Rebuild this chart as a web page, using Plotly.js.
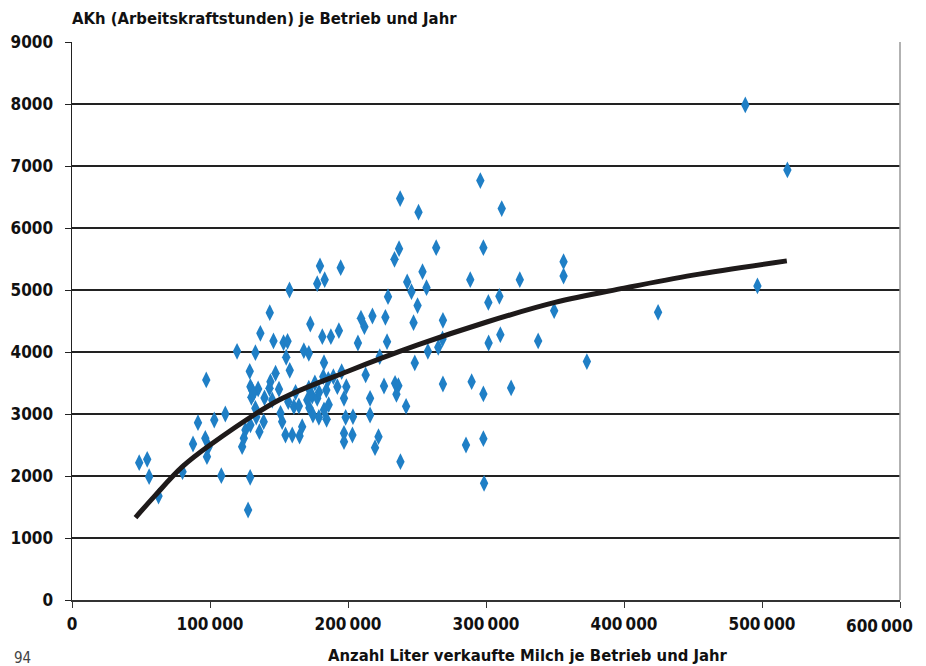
<!DOCTYPE html>
<html>
<head>
<meta charset="utf-8">
<script src="https://cdn.plot.ly/plotly-3.0.1.min.js"></script>
<style>html,body{margin:0;padding:0;background:#fff;}#chart{width:926px;height:666px;}</style>
</head>
<body>
<div id="chart"></div>
<script>
// Scatter data: litres of milk sold per farm and year vs. labour hours (AKh)
const milkLiters = [
  48700, 54500, 55900, 62700, 80100, 87700, 91300, 96600, 97300, 97800,
  99000, 103100, 108200, 111100, 119600, 123300, 124500, 125700, 127600, 128800,
  129100, 129300, 129300, 130000, 130500, 132900, 136500, 132900, 134900, 135800,
  138900, 131500, 133500, 143300, 146000, 143100, 143800, 147500, 145100, 151100,
  152300, 154700, 153300, 156200, 155200, 157800, 157600, 156700, 160800, 164400,
  159600, 164900, 166800, 168000, 171600, 172700, 170500, 171600, 174100, 174600,
  177700, 177700, 179700, 178900, 181400, 182100, 182600, 182600, 183100, 184300,
  184500, 185700, 187600, 189400, 192300, 193400, 194700, 195400, 197100, 197100,
  197100, 198300, 198800, 203600, 203200, 207200, 209400, 211900, 216000, 216000,
  217700, 219600, 222100, 223000, 226100, 227100, 229000, 228300, 233700, 237000,
  237800, 234100, 236500, 235100, 238000, 242100, 242900, 246000, 247500, 248400,
  250400, 251100, 254000, 256900, 257900, 263900, 265400, 268500, 268800, 268800,
  285500, 288600, 289600, 295900, 298100, 298100, 298100, 298600, 301700, 301900,
  309700, 310400, 311400, 318200, 324500, 337800, 349400, 356200, 356200, 373100,
  424700, 487900, 496700, 518400,
  176000, 179000, 186000, 172000, 162000, 150000, 139500, 212800
];
const laborHours = [
  2215, 2269, 1989, 1677, 2070, 2516, 2860, 2608, 3549, 2312,
  2473, 2903, 2005, 3000, 4011, 2473, 2608, 2742, 1452, 3689,
  1979, 3441, 2823, 3270, 3387, 3989, 4302, 3092, 3404, 2715,
  2876, 3330, 2950, 4634, 4178, 3415, 3521, 3657, 3226, 3011,
  2876, 2661, 4150, 4172, 3915, 3705, 5000, 3199, 3118, 3129,
  2661, 2645, 2795, 4021, 3979, 4452, 3226, 3415, 3290, 2984,
  3253, 5102, 5388, 2947, 4247, 3602, 3828, 3065, 5167, 3387,
  2915, 3560, 4247, 3602, 3441, 4344, 5360, 3683, 3253, 2689,
  2553, 2947, 3441, 2957, 2661, 4145, 4544, 4409, 3253, 2984,
  4581, 2457, 2634, 3925, 3452, 4560, 4892, 4166, 5495, 5667,
  6474, 3495, 3457, 3318, 2231, 3124, 5130, 4973, 4473, 3823,
  4748, 6255, 5296, 5038, 4011, 5683, 4075, 4210, 4511, 3484,
  2500, 5167, 3521, 6765, 5683, 3323, 2602, 1882, 4800, 4145,
  4898, 4280, 6313, 3420, 5167, 4178, 4667, 5457, 5226, 3845,
  4640, 7985, 5065, 6936,
  3500, 3350, 3150, 3100, 3350, 3400, 3260, 3630
];

// Trend curve
const trendX = [46000, 60000, 80000, 100000, 150000, 200000, 250000, 300000, 350000, 400000, 450000, 518000];
const trendY = [1330, 1680, 2150, 2500, 3225, 3690, 4110, 4480, 4800, 5030, 5240, 5470];

// Axis ticks (the last label is placed so it stays inside the picture)
const xTickVals = [0, 100000, 200000, 300000, 400000, 500000, 600000];
const xTickText = ["0", "100\u2009000", "200\u2009000", "300\u2009000", "400\u2009000", "500\u2009000", ""];
const xLastTickVal = 600000;
const xLastTickText = "600\u2009000";
const yTickVals = [0, 1000, 2000, 3000, 4000, 5000, 6000, 7000, 8000, 9000];

const yTitle = "AKh (Arbeitskraftstunden) je Betrieb und Jahr";
const xTitle = "Anzahl Liter verkaufte Milch je Betrieb und Jahr";
const pageNo = "94";

const FONT = "DejaVu Sans Condensed, DejaVu Sans, sans-serif";

const traces = [
  {
    type: "scatter", mode: "markers",
    x: milkLiters, y: laborHours,
    marker: { symbol: "diamond-tall", size: 12, color: "#1f7fc6", line: { width: 0 } },
    hoverinfo: "x+y"
  },
  {
    type: "scatter", mode: "lines",
    x: trendX, y: trendY,
    line: { color: "#1e1a1a", width: 5, shape: "spline", smoothing: 1 },
    hoverinfo: "skip"
  }
];

const layout = {
  width: 926, height: 666,
  margin: { l: 72, r: 26, t: 42, b: 66 },
  paper_bgcolor: "#ffffff", plot_bgcolor: "#ffffff",
  showlegend: false,
  font: { family: FONT, color: "#111", size: 16 },
  xaxis: {
    range: [0, 600000], tickvals: xTickVals, ticktext: xTickText,
    showgrid: false, zeroline: false,
    showline: true, linecolor: "#333", linewidth: 2,
    ticks: "outside", ticklen: 6, tickcolor: "#333", tickwidth: 1,
    tickfont: { family: FONT, size: 17, color: "#111", weight: "bold" },
    ticklabelstandoff: 2,
    fixedrange: true
  },
  yaxis: {
    range: [0, 9000], tickvals: yTickVals,
    showgrid: true, gridcolor: "#222", gridwidth: 1.2,
    zeroline: false,
    showline: true, linecolor: "#222", linewidth: 1.5,
    ticks: "outside", ticklen: 6, tickcolor: "#222", tickwidth: 1,
    tickfont: { family: FONT, size: 17, color: "#111", weight: "bold" },
    ticklabelstandoff: 8,
    fixedrange: true
  },
  shapes: [
    { type: "line", xref: "paper", yref: "paper", x0: 1, x1: 1, y0: 0, y1: 1,
      line: { color: "#999", width: 1.5 } }
  ],
  annotations: [
    { text: "<b>" + xLastTickText + "</b>", xref: "x", yref: "paper", x: xLastTickVal, y: -0.047,
      xanchor: "right", yanchor: "middle", xshift: 15, showarrow: false,
      font: { family: FONT, size: 17, color: "#111" } },
    { text: "<b>" + yTitle + "</b>", xref: "paper", yref: "paper", x: -0.003, y: 1.043,
      xanchor: "left", yanchor: "middle", showarrow: false,
      font: { family: FONT, size: 16.5, color: "#111" } },
    { text: "<b>" + xTitle + "</b>", xref: "paper", yref: "paper", x: 0.551, y: -0.1,
      xanchor: "center", yanchor: "middle", showarrow: false,
      font: { family: FONT, size: 16.5, color: "#111" } },
    { text: pageNo, xref: "paper", yref: "paper", x: -0.072, y: -0.104,
      xanchor: "left", yanchor: "middle", showarrow: false,
      font: { family: FONT, size: 15, color: "#444" } }
  ]
};

Plotly.newPlot("chart", traces, layout, { displayModeBar: false, staticPlot: true });
</script>
</body>
</html>
